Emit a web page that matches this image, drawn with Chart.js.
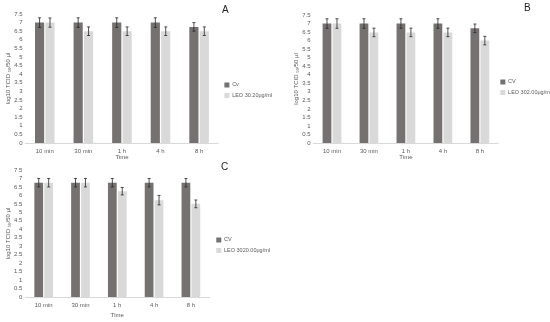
<!DOCTYPE html>
<html>
<head>
<meta charset="utf-8">
<script src="https://cdn.jsdelivr.net/npm/chart.js@4"></script>
<style>
  body { margin: 0; background: #fff; width: 550px; height: 322px; position: relative; overflow: hidden; font-family: "Liberation Sans", sans-serif; }
  .panel { position: absolute; }
  .tag { position: absolute; font-size: 10px; color: #222; }
</style>
</head>
<body>
<div class="panel" style="left:0;top:0"><canvas id="chartA" width="282" height="162"></canvas></div>
<div class="panel" style="left:275px;top:0"><canvas id="chartB" width="290" height="162"></canvas></div>
<div class="panel" style="left:0;top:160px"><canvas id="chartC" width="279" height="162"></canvas></div>
<div class="tag" style="left:222px;top:4px">A</div>
<div class="tag" style="left:524px;top:2px">B</div>
<div class="tag" style="left:221px;top:161px">C</div>
<script>
const times = ['10 min', '30 min', '1 h', '4 h', '8 h'];
const yTicks = [0, 0.5, 1, 1.5, 2, 2.5, 3, 3.5, 4, 4.5, 5, 5.5, 6, 6.5, 7, 7.5];

// panel A
const cvA = [7, 7, 7, 7, 6.75];
const cvErrA = [0.28, 0.28, 0.28, 0.28, 0.25];
const leoA = [7, 6.5, 6.5, 6.5, 6.5];
const leoErrA = [0.27, 0.25, 0.25, 0.25, 0.25];

// panel B
const cvB = [7, 7, 7, 7, 6.72];
const cvErrB = [0.28, 0.28, 0.28, 0.28, 0.25];
const leoB = [7, 6.48, 6.48, 6.48, 6.0];
const leoErrB = [0.28, 0.25, 0.25, 0.25, 0.25];

// panel C
const cvC = [6.75, 6.75, 6.75, 6.75, 6.75];
const cvErrC = [0.25, 0.25, 0.25, 0.25, 0.25];
const leoC = [6.75, 6.75, 6.25, 5.72, 5.5];
const leoErrC = [0.25, 0.25, 0.22, 0.28, 0.23];

const darkBar = '#767171';
const lightBar = '#d9d9d9';
const textGrey = '#595959';
const fontFam = '"Liberation Sans", sans-serif';

// draws the error whiskers on top of the bars
const errorBars = {
    id: 'errorBars',
    afterDatasetsDraw(chart) {
        const ctx = chart.ctx;
        const yScale = chart.scales.y;
        ctx.save();
        ctx.strokeStyle = '#262626';
        ctx.lineWidth = 0.8;
        chart.data.datasets.forEach((ds, i) => {
            const meta = chart.getDatasetMeta(i);
            meta.data.forEach((bar, j) => {
                const v = ds.data[j];
                const e = ds.errors[j];
                const top = yScale.getPixelForValue(v + e);
                const bot = yScale.getPixelForValue(v - e);
                ctx.beginPath();
                ctx.moveTo(bar.x, top); ctx.lineTo(bar.x, bot);
                ctx.moveTo(bar.x - 1.5, top); ctx.lineTo(bar.x + 1.5, top);
                ctx.moveTo(bar.x - 1.5, bot); ctx.lineTo(bar.x + 1.5, bot);
                ctx.stroke();
            });
        });
        ctx.restore();
    }
};

// nudge the legend a few px sideways
const legendNudge = {
    id: 'legendNudge',
    afterLayout(chart, args, opts) {
        if (chart.legend) {
            chart.legend.left += opts.dx || 0;
            chart.legend.right += opts.dx || 0;
        }
    }
};

function makeChart(id, cv, cvErr, leo, leoErr, cvName, leoName, box) {
    const ctx = document.getElementById(id).getContext('2d');
    return new Chart(ctx, {
        type: 'bar',
        data: {
            labels: times,
            datasets: [
                { label: cvName, data: cv, errors: cvErr, backgroundColor: darkBar,
                  categoryPercentage: 0.54, barPercentage: 0.88 },
                { label: leoName, data: leo, errors: leoErr, backgroundColor: lightBar,
                  categoryPercentage: 0.54, barPercentage: 0.88 }
            ]
        },
        options: {
            responsive: false,
            animation: false,
            devicePixelRatio: 1,
            layout: { padding: { left: 0, top: box.top, right: box.right, bottom: box.bottom } },
            scales: {
                x: {
                    grid: { display: false, drawTicks: false },
                    border: { color: '#d9d9d9' },
                    ticks: { color: textGrey, font: { family: fontFam, size: 6 }, padding: 5 },
                    title: { display: true, text: 'Time', color: textGrey, font: { family: fontFam, size: 6 },
                             padding: { top: 0, bottom: 1 } },
                    afterFit: s => { s.height = box.xh; }
                },
                y: {
                    min: 0, max: 7.5,
                    grid: { display: false, drawTicks: false },
                    border: { display: false },
                    afterBuildTicks: s => { s.ticks = yTicks.map(v => ({ value: v })); },
                    ticks: { color: textGrey, font: { family: fontFam, size: 6 }, padding: 3,
                             autoSkip: false, callback: v => String(v) },
                    title: { display: true, text: 'log10 TCID \u2085\u2080/50 \u00b5l', color: textGrey,
                             font: { family: fontFam, size: 6 }, padding: { top: box.titleTop, bottom: 0 } },
                    afterFit: s => { s.width = box.left; }
                }
            },
            plugins: {
                legend: {
                    position: 'right',
                    align: 'start',
                    labels: {
                        color: textGrey, font: { family: fontFam, size: 5.5 },
                        boxWidth: 5, boxHeight: 5, padding: 5
                    },
                    title: { display: true, text: '', font: { size: 1 }, padding: { top: box.legendTop, bottom: 0 } }
                },
                legendNudge: { dx: box.dx },
                tooltip: { enabled: false }
            }
        },
        plugins: [errorBars, legendNudge]
    });
}

makeChart('chartA', cvA, cvErrA, leoA, leoErrA, 'Cv', 'LEO 30.20\u03bcg/ml',
    { top: 14, right: 1, bottom: 0, xh: 19, left: 25.5, titleTop: 5, legendTop: 62, dx: 1 });
makeChart('chartB', cvB, cvErrB, leoB, leoErrB, 'CV', 'LEO 302.00\u03bcg/ml',
    { top: 15, right: 1, bottom: 0, xh: 19, left: 38.5, titleTop: 18, legendTop: 58, dx: -3 });
makeChart('chartC', cvC, cvErrC, leoC, leoErrC, 'CV', 'LEO 3020.00\u03bcg/ml',
    { top: 10, right: 1, bottom: 2, xh: 23, left: 25.3, titleTop: 5, legendTop: 61, dx: 2 });
</script>
</body>
</html>
